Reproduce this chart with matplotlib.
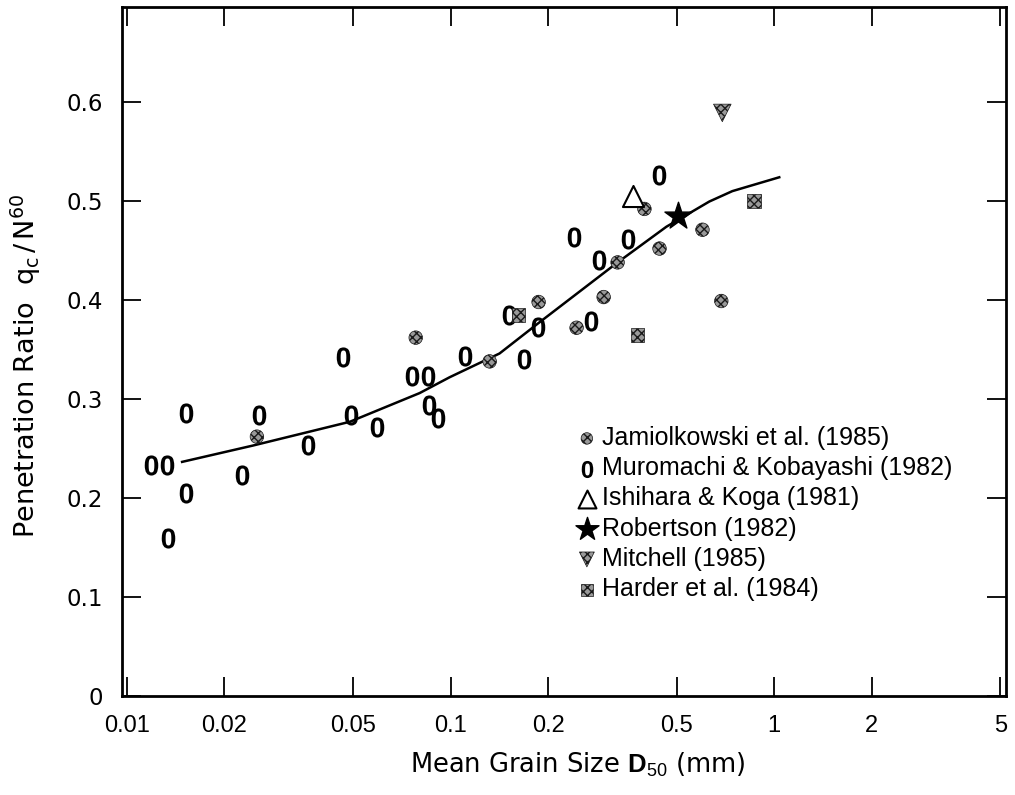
import matplotlib.pyplot as plt
from matplotlib.ticker import FixedLocator, FixedFormatter, NullLocator

plt.rcParams['font.family'] = ['Liberation Sans', 'DejaVu Sans']
plt.rcParams['mathtext.fontset'] = 'custom'
plt.rcParams['mathtext.rm'] = 'Liberation Sans'
plt.rcParams['mathtext.it'] = 'Liberation Sans'
plt.rcParams['mathtext.bf'] = 'Liberation Sans:bold'
plt.rcParams['hatch.linewidth'] = 1.0

# Data (mean grain size D50 in mm, penetration ratio qc/N60)
muro_d50 = [0.0119, 0.0133, 0.0152, 0.0152, 0.0134, 0.0226, 0.0256, 0.0362,
            0.0464, 0.0491, 0.0591, 0.0758, 0.0849, 0.0855, 0.0912, 0.1105,
            0.152, 0.168, 0.186, 0.240, 0.272, 0.288, 0.352, 0.439]
muro_ratio = [0.233, 0.233, 0.286, 0.205, 0.160, 0.223, 0.284, 0.254,
              0.342, 0.284, 0.272, 0.323, 0.323, 0.294, 0.281, 0.343,
              0.385, 0.340, 0.373, 0.464, 0.379, 0.440, 0.462, 0.526]

jam_d50 = [0.0252, 0.078, 0.132, 0.187, 0.245, 0.297, 0.328, 0.397, 0.442, 0.600, 0.686]
jam_ratio = [0.262, 0.362, 0.338, 0.398, 0.372, 0.403, 0.438, 0.492, 0.452, 0.471, 0.399]

harder_d50 = [0.162, 0.378, 0.868]
harder_ratio = [0.385, 0.365, 0.500]

ishihara_d50 = [0.365]
ishihara_ratio = [0.505]

robertson_d50 = [0.505]
robertson_ratio = [0.485]

mitchell_d50 = [0.691]
mitchell_ratio = [0.589]

# trend curve
curve_d50 = [0.0148, 0.0245, 0.0488, 0.0802, 0.0993, 0.1416, 0.1856, 0.325, 0.464, 0.630, 0.742, 1.036]
curve_ratio = [0.2365, 0.253, 0.277, 0.306, 0.322, 0.346, 0.376, 0.437, 0.474, 0.4995, 0.510, 0.524]

x_ticks = [0.01, 0.02, 0.05, 0.1, 0.2, 0.5, 1, 2, 5]
x_labels = ["0.01", "0.02", "0.05", "0.1", "0.2", "0.5", "1", "2", "5"]
y_ticks = [0, 0.1, 0.2, 0.3, 0.4, 0.5, 0.6]
y_labels = ["0", "0.1", "0.2", "0.3", "0.4", "0.5", "0.6"]

fig = plt.figure(figsize=(10.15, 7.95), dpi=100)
ax = fig.add_axes([122 / 1015, 99 / 795, 884 / 1015, 689 / 795])

ax.plot(curve_d50, curve_ratio, color="black", lw=1.8, zorder=2)

hatch_kw = dict(facecolor="#999999", edgecolor="#1a1a1a", hatch="xxxx", linewidths=0.5, zorder=3)
ax.scatter(jam_d50, jam_ratio, marker="o", s=95, label="Jamiolkowski et al. (1985)", **hatch_kw)
ax.scatter(muro_d50, muro_ratio, marker=r"$\mathbf{0}$", s=210, color="black", linewidths=0,
           label="Muromachi & Kobayashi (1982)", zorder=3)
ax.scatter(ishihara_d50, ishihara_ratio, marker="^", s=230, facecolor="white", edgecolor="black",
           linewidths=1.5, label="Ishihara & Koga (1981)", zorder=3)
ax.scatter(robertson_d50, robertson_ratio, marker="*", s=420, color="black",
           label="Robertson (1982)", zorder=4)
ax.scatter(mitchell_d50, mitchell_ratio, marker="v", s=160, label="Mitchell (1985)", **hatch_kw)
ax.scatter(harder_d50, harder_ratio, marker="s", s=100, label="Harder et al. (1984)", **hatch_kw)

ax.set_xscale("log")
ax.set_xlim(0.00965, 5.2)
ax.set_ylim(0, 0.696)
ax.xaxis.set_major_locator(FixedLocator(x_ticks))
ax.xaxis.set_major_formatter(FixedFormatter(x_labels))
ax.xaxis.set_minor_locator(NullLocator())
ax.set_yticks(y_ticks)
ax.set_yticklabels(y_labels)

ax.tick_params(axis="both", which="major", direction="in", length=14, width=1.3,
               top=True, right=True)
ax.tick_params(axis="x", pad=14, labelsize=17)
ax.tick_params(axis="y", pad=14, labelsize=16.5)
for lab in ax.get_yticklabels():
    lab.set_family("DejaVu Sans")
for sp in ax.spines.values():
    sp.set_linewidth(2.0)

ax.set_xlabel(r"Mean Grain Size $\mathbf{D}_{50}$ (mm)", fontsize=18.5, family="DejaVu Sans")
ax.xaxis.set_label_coords(0.515, -0.080)
ax.set_ylabel(r"Penetration Ratio  $\mathregular{q_c\,/\,N^{60}}$", fontsize=19.5, family="DejaVu Sans")
ax.yaxis.set_label_coords(-0.089, 0.479)

ax.legend(loc="upper left", bbox_to_anchor=((580 - 122) / 884, (696 - 426) / 689),
          frameon=False, fontsize=18, handlelength=0.55, handletextpad=0.35,
          labelspacing=0.25, borderpad=0, borderaxespad=0, markerscale=0.85)

fig.savefig("out.png", dpi=100)
